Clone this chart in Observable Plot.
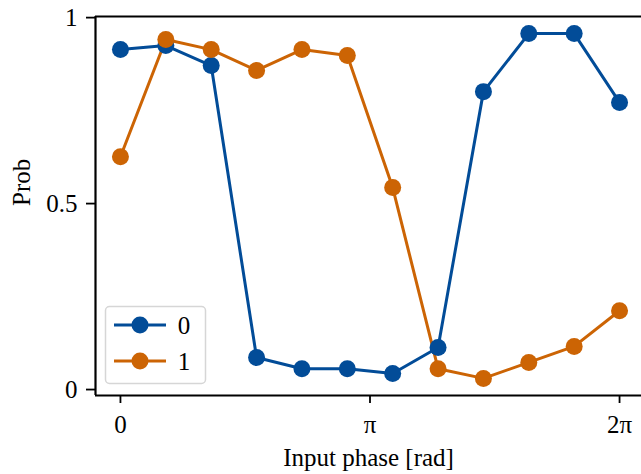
<!DOCTYPE html>
<html>
<head>
<meta charset="utf-8">
<script src="https://cdn.jsdelivr.net/npm/d3@7"></script>
<script src="https://cdn.jsdelivr.net/npm/@observablehq/plot@0.6"></script>
<style>
  html, body { margin: 0; padding: 0; background: #fff; }
  svg { display: block; }
</style>
</head>
<body>
<div id="chart"></div>
<script>
const phases = [0, 0.5712, 1.1424, 1.7136, 2.2848, 2.8560, 3.4272, 3.9984, 4.5696, 5.1408, 5.7120, 6.2832];
const prob0 = [0.914, 0.925, 0.871, 0.086, 0.056, 0.056, 0.043, 0.113, 0.801, 0.957, 0.957, 0.772];
const prob1 = [0.626, 0.941, 0.914, 0.858, 0.914, 0.898, 0.543, 0.056, 0.030, 0.073, 0.116, 0.212];
const seriesNames = ["0", "1"];
const seriesColors = ["#024c98", "#cc6404"];
const xTicks = [0, Math.PI, 2 * Math.PI];
const xTickLabels = ["0", "π", "2π"];
const yTicks = [0, 0.5, 1];
const yTickLabels = ["0", "0.5", "1"];
const xLabel = "Input phase [rad]";
const yLabel = "Prob";

const data = [];
[prob0, prob1].forEach((vals, s) => {
  vals.forEach((v, i) => data.push({phase: phases[i], prob: v, series: seriesNames[s]}));
});

const W = 641, H = 474;
const mL = 95, mT = 16, mB = 79, mR = 0;
const xPad = 0.05 * 2 * Math.PI;
const xDom = [-xPad, 2 * Math.PI + xPad];
const yDom = [-0.016, 1.003];
const font = "'Liberation Serif', 'DejaVu Serif', serif";
const fs = 24;

const plot = Plot.plot({
  width: W,
  height: H,
  marginLeft: mL,
  marginTop: mT,
  marginBottom: mB,
  marginRight: mR,
  style: {fontFamily: font, fontSize: fs + "px", color: "#000", background: "#fff"},
  x: {domain: xDom, range: [mL, mL + 549]},
  y: {domain: yDom},
  color: {domain: seriesNames, range: seriesColors},
  marks: [
    Plot.line(data, {x: "phase", y: "prob", stroke: "series", z: "series", strokeWidth: 3}),
    Plot.dot(data, {x: "phase", y: "prob", fill: "series", r: 8.5, stroke: null}),
    Plot.ruleX([xDom[0]], {stroke: "#000", strokeWidth: 2.2}),
    Plot.ruleY([yDom[0], yDom[1]], {stroke: "#000", strokeWidth: 2.2}),
    Plot.axisX({ticks: xTicks, tickFormat: (d, i) => xTickLabels[i], tickSize: 8, tickPadding: 12, strokeWidth: 1.8, label: null, fontSize: 25}),
    Plot.axisY({ticks: yTicks, tickFormat: (d, i) => yTickLabels[i], tickSize: 9, tickPadding: 9, strokeWidth: 1.8, label: null, fontSize: 25}),
    Plot.text([xLabel], {frameAnchor: "bottom", dy: 70, fontSize: 25, fill: "#000"}),
    Plot.text([yLabel], {frameAnchor: "left", dx: -74, rotate: -90, fontSize: 25, fill: "#000"})
  ]
});

// Legend inside the plot frame (lower left)
const svg = d3.select(plot);
const lg = svg.append("g").attr("font-family", font).attr("font-size", 25);
lg.append("rect").attr("x", 105.5).attr("y", 306.5).attr("width", 100).attr("height", 77)
  .attr("rx", 4).attr("fill", "#fff").attr("fill-opacity", 0.85).attr("stroke", "#d6d6d6").attr("stroke-width", 1.5);
seriesNames.forEach((name, i) => {
  const yy = 325 + i * 36;
  lg.append("line").attr("x1", 114).attr("x2", 166).attr("y1", yy).attr("y2", yy)
    .attr("stroke", seriesColors[i]).attr("stroke-width", 3);
  lg.append("circle").attr("cx", 140).attr("cy", yy).attr("r", 8.5).attr("fill", seriesColors[i]);
  lg.append("text").attr("x", 184).attr("y", yy).attr("dy", "0.35em").text(name);
});

document.getElementById("chart").appendChild(plot);
</script>
</body>
</html>
